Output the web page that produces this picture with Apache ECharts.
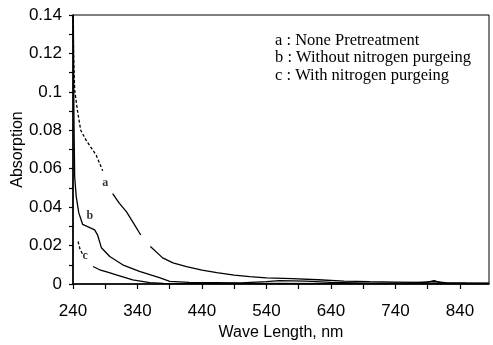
<!DOCTYPE html>
<html>
<head>
<meta charset="utf-8">
<script src="https://cdn.jsdelivr.net/npm/echarts@6/dist/echarts.min.js"></script>
<style>
  html, body { margin: 0; padding: 0; background: #fff; }
  #main { width: 493px; height: 345px; }
</style>
</head>
<body>
<div id="main"></div>
<script>
// wave length (nm) and absorption; null = gap in the trace
const aHeadWave = [240, 241, 242.6, 247, 252, 260, 268, 276, 281, 286];
const aHeadAbs  = [0.14, 0.118, 0.101, 0.09, 0.080, 0.075, 0.071, 0.067, 0.063, 0.059];
const aWave = [301.5, 312, 323, 335, 345, 348, 360, 379, 395, 416, 440, 463, 490, 514, 540, 580, 620, 660, 700, 740, 780, 800, 820, 860, 885];
const aAbs  = [0.047, 0.042, 0.0375, 0.031, 0.0255, null, 0.0195, 0.0136, 0.011, 0.009, 0.0072, 0.0059, 0.0046, 0.0038, 0.0032, 0.0028, 0.0022, 0.0015, 0.0012, 0.001, 0.0008, 0.0013, 0.0006, 0.0005, 0.0005];

const bWave = [240.5, 241.5, 242.6, 245, 249, 255, 266, 273.6, 278, 284, 297, 317, 343, 374, 390, 420, 460, 500, 540, 560, 600, 640, 700, 760, 790, 800, 810, 850, 885];
const bAbs  = [0.14, 0.085, 0.0558, 0.0455, 0.037, 0.031, 0.0293, 0.0282, 0.0256, 0.0189, 0.0143, 0.010, 0.0066, 0.0033, 0.0014, 0.0008, 0.0007, 0.0006, 0.0012, 0.0018, 0.0015, 0.0008, 0.0005, 0.0006, 0.001, 0.0018, 0.0006, 0.0004, 0.0003];

const cHeadWave = [247.8, 251, 255.5];
const cHeadAbs  = [0.0221, 0.018, 0.0152];
const cWave = [271, 281.4, 295, 307, 320, 332.6, 359, 380, 420, 480, 560, 640, 720, 800, 885];
const cAbs  = [0.0091, 0.0074, 0.006, 0.0048, 0.0035, 0.0022, 0.0007, 0.0003, 0.0002, 0.0002, 0.0003, 0.0002, 0.0002, 0.0003, 0.0002];

// curve tags placed beside the traces
const tagNames = ['a', 'b', 'c'];
const tagWave  = [290, 266, 259];
const tagAbs   = [0.0527, 0.0355, 0.0147];

const legendLines = [
  'a : None Pretreatment',
  'b : Without nitrogen purgeing',
  'c : With nitrogen purgeing'
];

function zip(xs, ys) {
  return xs.map((x, i) => [x, ys[i]]);
}

function trace(name, xs, ys, dashed) {
  return {
    name: name,
    type: 'line',
    data: zip(xs, ys),
    showSymbol: false,
    connectNulls: false,
    silent: true,
    lineStyle: { color: '#000', width: 1.3, type: dashed ? [3, 2] : 'solid' },
    z: 3
  };
}

let myChart = echarts.init(document.getElementById('main'));

const nameFont = { fontFamily: 'Liberation Sans, Arial, sans-serif', fontSize: 16, color: '#000' };
const tickFont = { fontFamily: 'Liberation Sans, Arial, sans-serif', fontSize: 17, color: '#000' };

myChart.setOption({
  animation: false,
  backgroundColor: '#fff',
  grid: {
    left: 73,
    right: 4,
    top: 15,
    bottom: 61,
    containLabel: false,
    outerBoundsMode: 'none',
    show: true,
    borderColor: '#000',
    borderWidth: 1
  },
  xAxis: {
    type: 'value',
    min: 240,
    max: 885,
    interval: 50,
    name: 'Wave Length, nm',
    nameLocation: 'middle',
    nameGap: 41,
    nameMoveOverlap: false,
    nameTextStyle: nameFont,
    axisLine: { lineStyle: { color: '#000', width: 1.6 } },
    axisTick: { length: 5, lineStyle: { color: '#000', width: 1.2 } },
    axisLabel: Object.assign({
      margin: 19,
      showMaxLabel: false,
      formatter: v => ((v - 240) % 100 === 0 ? String(v) : '')
    }, tickFont),
    splitLine: { show: false }
  },
  yAxis: {
    type: 'value',
    min: 0,
    max: 0.14,
    interval: 0.01,
    name: 'Absorption',
    nameLocation: 'middle',
    nameGap: 47,
    nameMoveOverlap: false,
    nameTextStyle: nameFont,
    axisLine: { lineStyle: { color: '#000', width: 1.6 } },
    axisTick: { length: 4, lineStyle: { color: '#000', width: 1.2 } },
    axisLabel: Object.assign({
      margin: 11,
      formatter: v => (Math.round(v * 100) % 2 === 0 ? String(+v.toFixed(2)) : '')
    }, tickFont),
    splitLine: { show: false }
  },
  graphic: legendLines.map((t, i) => ({
    type: 'text',
    x: 275,
    y: 40.5 + i * 17.5,
    silent: true,
    style: {
      text: t,
      fill: '#000',
      font: '16.5px "Liberation Serif", "Times New Roman", serif',
      verticalAlign: 'middle'
    }
  })),
  series: [
    trace('a1', aHeadWave, aHeadAbs, true),
    trace('a', aWave, aAbs, false),
    trace('b', bWave, bAbs, false),
    trace('c1', cHeadWave, cHeadAbs, true),
    trace('c', cWave, cAbs, false),
    {
      name: 'tags',
      type: 'scatter',
      silent: true,
      symbolSize: 0,
      data: tagNames.map((n, i) => ({ name: n, value: [tagWave[i], tagAbs[i]] })),
      label: {
        show: true,
        position: 'inside',
        formatter: p => p.name,
        fontFamily: 'Liberation Serif, Times New Roman, serif',
        fontWeight: 'bold',
        fontSize: 12,
        color: '#000'
      }
    }
  ]
});
</script>
</body>
</html>
